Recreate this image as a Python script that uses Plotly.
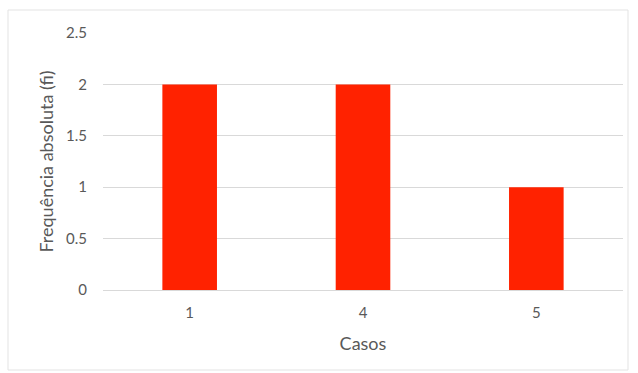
import plotly.graph_objects as go

# Frequency table
casos = ["1", "4", "5"]
frequencia = [2, 2, 1]
y_ticks = [0, 0.5, 1, 1.5, 2, 2.5]
y_tick_labels = ["0", "0.5", "1", "1.5", "2", "2.5"]

font_family = "Lato, 'Open Sans', sans-serif"
text_gray = "#595959"

fig = go.Figure(
    go.Bar(
        x=casos,
        y=frequencia,
        marker=dict(color="#FF2200", line=dict(width=0)),
        width=0.315,
    )
)

fig.update_layout(
    width=638,
    height=373,
    margin=dict(l=103, r=15, t=33, b=83),
    paper_bgcolor="white",
    plot_bgcolor="white",
    showlegend=False,
    font=dict(family=font_family, color=text_gray, size=15),
    shapes=[
        dict(
            type="rect", xref="paper", yref="paper",
            x0=-95 / 520, x1=1 + 5 / 520, y0=-80 / 257, y1=1 + 23 / 257,
            line=dict(color="#e3e3e3", width=1), fillcolor="rgba(0,0,0,0)",
            layer="below",
        )
    ],
)

fig.update_xaxes(
    type="category",
    showgrid=False,
    showline=True,
    linecolor="#d9d9d9",
    linewidth=1,
    ticks="",
    ticklabelstandoff=9,
    tickfont=dict(size=15, color=text_gray),
    title=dict(text="Casos", font=dict(size=18, color=text_gray), standoff=17),
)

fig.update_yaxes(
    range=[0, 2.5],
    tickvals=y_ticks,
    ticktext=y_tick_labels,
    showgrid=True,
    gridcolor="#d9d9d9",
    gridwidth=1,
    zeroline=False,
    showline=False,
    ticks="",
    ticklabelstandoff=15,
    tickfont=dict(size=15, color=text_gray),
    title=dict(text="Frequência absoluta (fi)", font=dict(size=18, color=text_gray), standoff=7),
)

fig.write_html("out.html")
